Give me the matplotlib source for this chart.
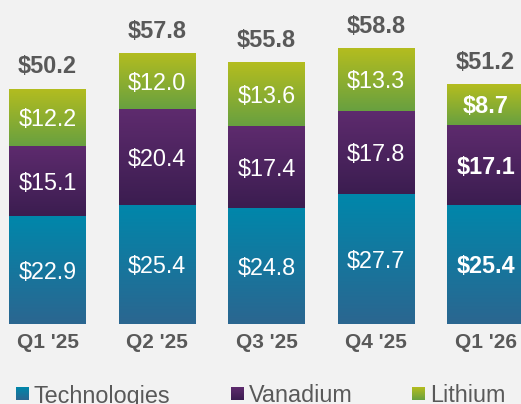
import matplotlib.pyplot as plt
import numpy as np
from matplotlib.colors import LinearSegmentedColormap
from matplotlib.patches import Rectangle

quarters = ["Q1 '25", "Q2 '25", "Q3 '25", "Q4 '25", "Q1 '26"]
technologies = [22.9, 25.4, 24.8, 27.7, 25.4]
vanadium = [15.1, 20.4, 17.4, 17.8, 17.1]
lithium = [12.2, 12.0, 13.6, 13.3, 8.7]
totals = [50.2, 57.8, 55.8, 58.8, 51.2]
series_names = ["Technologies", "Vanadium", "Lithium"]

# gradient colours, top -> bottom
GRADS = [("#0087ab", "#2b6690"), ("#5e2b6e", "#3b1d50"), ("#b4bd1f", "#68a040")]
BG = "#f2f2f2"
GREY = "#595959"

plt.rcParams['font.family'] = ['Liberation Sans', 'DejaVu Sans']

fig = plt.figure(figsize=(5.21, 4.04), dpi=100, facecolor=BG)
ax = fig.add_axes([0, 0, 1, 1])
ax.set_facecolor(BG)
ax.axis('off')

x = np.arange(len(quarters))
width = 0.703
grad = np.linspace(0, 1, 256).reshape(-1, 1)

bottom = np.zeros(len(quarters))
for k, vals in enumerate([technologies, vanadium, lithium]):
    cmap = LinearSegmentedColormap.from_list(series_names[k], GRADS[k])
    bars = ax.bar(x, vals, width, bottom=bottom, facecolor='none', edgecolor='none')
    for i, p in enumerate(bars.patches):
        x0, y0 = p.get_x(), p.get_y()
        im = ax.imshow(grad, cmap=cmap, aspect='auto',
                       extent=[x0, x0 + p.get_width(), y0, y0 + p.get_height()],
                       origin='upper', zorder=1)
        im.set_clip_path(p)
        last = i == len(quarters) - 1
        ax.text(x[i], bottom[i] + vals[i] / 2, f"${vals[i]:.1f}", color='white',
                fontsize=16.8, ha='center', va='center_baseline',
                fontweight='bold' if last else 'normal', zorder=3)
    bottom += np.array(vals)

for i, t in enumerate(totals):
    ax.annotate(f"${t:.1f}", (x[i], t), xytext=(0, 17.5), textcoords='offset points',
                ha='center', va='center_baseline', fontsize=16.9,
                fontweight='bold', color=GREY)

for i, q in enumerate(quarters):
    ax.text(x[i], -3.5, q, ha='center', va='center_baseline', fontsize=15,
            fontweight='bold', color=GREY)

ax.set_xlim(-0.4338, 4.324)
ax.set_ylim(-17.14, 69.09)

# legend drawn in pixel-based figure fractions
leg_x = [16, 231, 412]
for k, name in enumerate(series_names):
    cmap = LinearSegmentedColormap.from_list(name + "_leg", GRADS[k])
    lx = leg_x[k] / 521
    ly = 1 - 400 / 404
    sq = fig.add_axes([lx, ly, 13 / 521, 13 / 404])
    sq.imshow(grad, cmap=cmap, aspect='auto')
    sq.axis('off')
    fig.text((leg_x[k] + 18) / 521, 1 - 393.5 / 404, name, fontsize=16.8,
             color=GREY, ha='left', va='center_baseline')

fig.savefig("out.png", dpi=100, facecolor=BG)
